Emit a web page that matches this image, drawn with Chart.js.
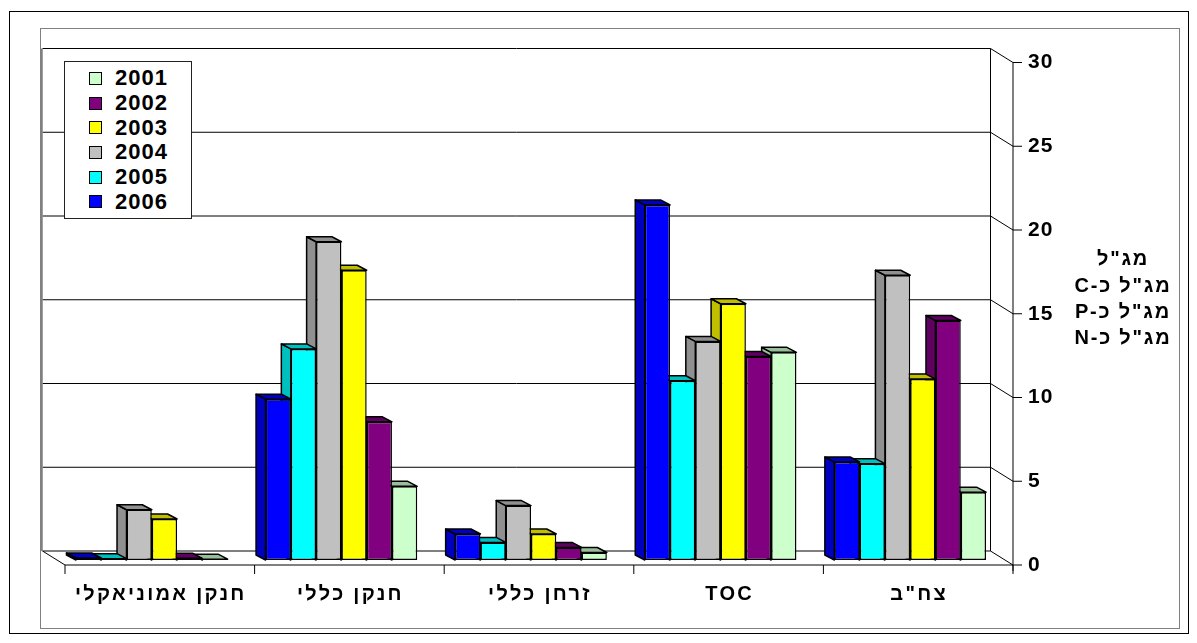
<!DOCTYPE html>
<html lang="he">
<head>
<meta charset="utf-8">
<title>ריכוזים לפי שנה</title>
<script src="https://cdn.jsdelivr.net/npm/chart.js@4/dist/chart.umd.min.js"></script>
<style>
  html, body { margin: 0; padding: 0; background: #fff; }
  #wrap { position: relative; width: 1197px; height: 643px; }
  canvas { display: block; }
  #legend {
    position: absolute; left: 64px; top: 61px; width: 128px; height: 158px;
    box-sizing: border-box; border: 1px solid #222; background: #fff;
    padding-top: 4.2px;
    font: bold 22px "Liberation Sans", Arial, sans-serif; color: #000;
    letter-spacing: 1px;
  }
  #legend .row { position: relative; height: 24.7px; line-height: 24.7px; padding-left: 50px; }
  #legend .sw {
    position: absolute; left: 24px; top: 5.8px; width: 11px; height: 11px;
    border: 1px solid #000;
  }
</style>
</head>
<body>
<div id="wrap">
  <canvas id="c" width="1197" height="643"></canvas>
  <div id="legend"></div>
</div>
<script>
// Categories, left to right
const categories = ['חנקן אמוניאקלי', 'חנקן כללי', 'זרחן כללי', 'TOC', 'צח"ב'];

// Series per year (same category order)
const years = ['2006', '2005', '2004', '2003', '2002', '2001'];
const v2006 = [0.12, 9.6, 1.55, 21.2, 5.85];
const v2005 = [0.08, 12.6, 1.05, 10.7, 5.75];
const v2004 = [3.0, 19.0, 3.25, 13.05, 17.0];
const v2003 = [2.45, 17.3, 1.55, 15.3, 10.8];
const v2002 = [0.1, 8.25, 0.75, 12.15, 14.3];
const v2001 = [0.05, 4.4, 0.45, 12.4, 4.05];

// Value axis ticks
const yTicks = [0, 5, 10, 15, 20, 25, 30];

// Unit lines shown next to the value axis
const unitLines = ['מג"ל', 'מג"ל כ-C', 'מג"ל כ-P', 'מג"ל כ-N'];

const seriesValues = [v2006, v2005, v2004, v2003, v2002, v2001];
const seriesColors = ['#0000FF', '#00FFFF', '#C0C0C0', '#FFFF00', '#800080', '#CCFFCC'];

const FONT = '"Liberation Sans", Arial, sans-serif';
Chart.defaults.font.family = FONT;
Chart.defaults.color = '#000';

// Depth of each bar (back face offset) and of the wall / front edge relative to the bar plane
const BAR_DX = -9.5, BAR_DY = -5;
const BACK_DX = -14.5, BACK_DY = -9;
const FRONT_DX = 8, FRONT_DY = 5;

function shade(hex, f) {
  const n = parseInt(hex.slice(1), 16);
  const r = Math.round(((n >> 16) & 255) * f);
  const g = Math.round(((n >> 8) & 255) * f);
  const b = Math.round((n & 255) * f);
  return `rgb(${r},${g},${b})`;
}

// Outer borders of the chart and plot frames; wide spacing for the category labels
const frames = {
  id: 'frames',
  beforeDraw(chart) {
    const ctx = chart.ctx;
    ctx.save();
    ctx.fillStyle = '#fff';
    ctx.fillRect(0, 0, chart.width, chart.height);
    ctx.lineWidth = 1;
    ctx.strokeStyle = '#000';
    ctx.strokeRect(9.5, 11.5, 1179, 622);
    ctx.strokeStyle = '#808080';
    ctx.strokeRect(40.5, 28.5, 1139, 600);
    ctx.restore();
    ctx.letterSpacing = '2.3px';
  },
  afterDatasetsDraw(chart) {
    // value labels are drawn after the bars
    chart.ctx.letterSpacing = '1px';
  },
  afterDraw(chart) {
    chart.ctx.letterSpacing = '0px';
  }
};

// Back wall with gridlines, floor, and the front value axis
const walls = {
  id: 'walls',
  beforeDatasetsDraw(chart) {
    const { ctx, chartArea: a, scales: { x, y } } = chart;
    ctx.letterSpacing = '0px';
    const bl = a.left + BACK_DX, br = a.right + BACK_DX;
    const fl = a.left + FRONT_DX, fr = a.right + FRONT_DX;
    const yTop = y.getPixelForValue(y.max), y0 = y.getPixelForValue(0);
    ctx.save();
    ctx.lineWidth = 1;
    ctx.strokeStyle = '#000';
    y.ticks.forEach(t => {
      const p = y.getPixelForValue(t.value);
      ctx.beginPath();
      ctx.moveTo(bl, p + BACK_DY);
      ctx.lineTo(br, p + BACK_DY);
      ctx.lineTo(fr, p + FRONT_DY);
      ctx.lineTo(fr + 9, p + FRONT_DY);
      ctx.stroke();
    });
    // right edge of the back wall
    ctx.beginPath();
    ctx.moveTo(br, yTop + BACK_DY);
    ctx.lineTo(br, y0 + BACK_DY);
    ctx.stroke();
    // front value axis line
    ctx.beginPath();
    ctx.moveTo(fr, yTop + FRONT_DY);
    ctx.lineTo(fr, y0 + FRONT_DY + 6);
    ctx.stroke();
    // floor: front edge and left side
    ctx.beginPath();
    ctx.moveTo(bl, y0 + BACK_DY);
    ctx.lineTo(fl, y0 + FRONT_DY);
    ctx.lineTo(fr, y0 + FRONT_DY);
    ctx.stroke();
    // category tick marks along the front edge
    const n = x.ticks.length, step = (a.right - a.left) / n;
    for (let k = 0; k <= n; k++) {
      const px = a.left + k * step + FRONT_DX;
      ctx.beginPath();
      ctx.moveTo(px, y0 + FRONT_DY);
      ctx.lineTo(px, y0 + FRONT_DY + 9);
      ctx.stroke();
    }
    // left wall seen edge-on
    ctx.strokeStyle = '#808080';
    ctx.lineWidth = 2.5;
    ctx.beginPath();
    ctx.moveTo(bl - 1, yTop + BACK_DY);
    ctx.lineTo(bl - 1, y0 + BACK_DY);
    ctx.stroke();
    ctx.restore();
  }
};

// Side and top faces of each bar, drawn before its front face
const bar3d = {
  id: 'bar3d',
  beforeDatasetDraw(chart, args) {
    const ctx = chart.ctx;
    const ds = chart.data.datasets[args.index];
    ctx.save();
    ctx.lineWidth = 1.5;
    ctx.lineJoin = 'round';
    ctx.strokeStyle = '#000';
    ctx.fillStyle = shade(ds.backgroundColor, 0.75);
    args.meta.data.forEach(bar => {
      const { x, y, base, width } = bar.getProps(['x', 'y', 'base', 'width'], true);
      const l = x - width / 2, r = x + width / 2;
      ctx.beginPath();
      ctx.moveTo(l, base);
      ctx.lineTo(l, y);
      ctx.lineTo(l + BAR_DX, y + BAR_DY);
      ctx.lineTo(l + BAR_DX, base + BAR_DY);
      ctx.closePath();
      ctx.fill();
      ctx.stroke();
      ctx.beginPath();
      ctx.moveTo(l, y);
      ctx.lineTo(r, y);
      ctx.lineTo(r + BAR_DX, y + BAR_DY);
      ctx.lineTo(l + BAR_DX, y + BAR_DY);
      ctx.closePath();
      ctx.fill();
      ctx.stroke();
    });
    ctx.restore();
  }
};

// Unit lines to the right of the value axis
const units = {
  id: 'units',
  afterDraw(chart) {
    const { ctx, chartArea: a } = chart;
    ctx.save();
    ctx.font = 'bold 20px ' + FONT;
    ctx.letterSpacing = '1.8px';
    ctx.fillStyle = '#000';
    ctx.direction = 'rtl';
    ctx.textAlign = 'center';
    ctx.textBaseline = 'middle';
    const cx = a.right + 118;
    const cy = (a.top + a.bottom) / 2 - 9.5;
    const lh = 26.3;
    unitLines.forEach((s, i) => {
      ctx.fillText(s, cx, cy + (i - (unitLines.length - 1) / 2) * lh);
    });
    ctx.restore();
  }
};

const chart = new Chart(document.getElementById('c'), {
  type: 'bar',
  data: {
    labels: categories,
    datasets: years.map((yr, i) => ({
      label: yr,
      data: seriesValues[i],
      backgroundColor: seriesColors[i],
      borderColor: '#000',
      borderWidth: 1.5,
      borderSkipped: false,
      categoryPercentage: 0.8,
      barPercentage: 1.0
    }))
  },
  options: {
    responsive: false,
    animation: false,
    devicePixelRatio: 1,
    layout: { padding: { left: 57, top: 57.5, right: 0, bottom: 0 } },
    plugins: { legend: { display: false }, tooltip: { enabled: false } },
    scales: {
      x: {
        grid: { display: false, drawTicks: false },
        border: { display: false },
        ticks: {
          font: { size: 20, weight: 'bold' },
          color: '#000',
          padding: 22,
          labelOffset: FRONT_DX + 1,
          maxRotation: 0,
          autoSkip: false
        },
        afterFit(s) { s.height = 83; }
      },
      y: {
        position: 'right',
        min: yTicks[0],
        max: yTicks[yTicks.length - 1],
        afterBuildTicks(s) { s.ticks = yTicks.map(v => ({ value: v })); },
        grid: { display: false, drawTicks: false },
        border: { display: false },
        ticks: {
          z: 1,
          font: { size: 21, weight: 'bold' },
          color: '#000',
          padding: 23,
          labelOffset: FRONT_DY
        },
        afterFit(s) { s.width = 192; }
      }
    }
  },
  plugins: [frames, walls, bar3d, units]
});

// Legend box listing the years from oldest to newest
const legendEl = document.getElementById('legend');
chart.data.datasets.slice().reverse().forEach(ds => {
  const row = document.createElement('div');
  row.className = 'row';
  const sw = document.createElement('span');
  sw.className = 'sw';
  sw.style.background = ds.backgroundColor;
  row.appendChild(sw);
  row.appendChild(document.createTextNode(ds.label));
  legendEl.appendChild(row);
});
</script>
</body>
</html>
